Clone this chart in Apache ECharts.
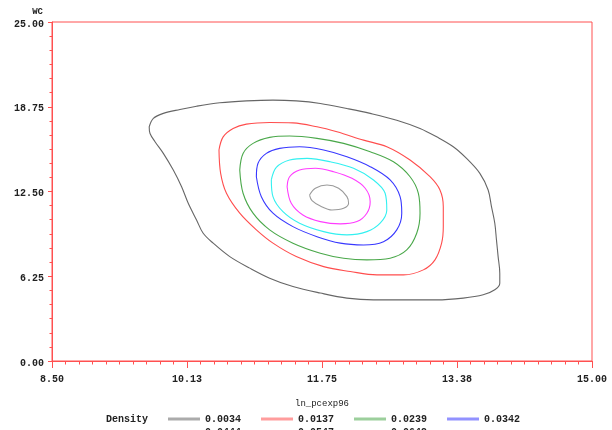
<!DOCTYPE html>
<html>
<head>
<meta charset="utf-8">
<script src="https://cdn.jsdelivr.net/npm/echarts@6/dist/echarts.min.js"></script>
<style>html,body{margin:0;padding:0;background:#fff;}#c{width:612px;height:430px;}</style>
</head>
<body>
<div id="c"></div>
<script>
// Density levels (legend) and contour colours
const levels = ['0.0034','0.0137','0.0239','0.0342','0.0444','0.0547','0.0649'];
const colors = ['#666666','#ff4d4d','#4aa84a','#3838ff','#33f0f0','#ff3cff','#9a9a9a'];
const xTickLabels = ['8.50','10.13','11.75','13.38','15.00'];
const yTickLabels = ['0.00','6.25','12.50','18.75','25.00'];

// Contour paths [ln_pcexp96, WC]
const c0034 = [[9.67,17.27],[9.72,17.89],[9.84,18.26],[10.04,18.55],[10.24,18.79],[10.52,19.04],[10.84,19.18],[11.16,19.24],[11.44,19.18],[11.73,18.99],[12.05,18.62],[12.33,18.26],[12.65,17.76],[12.93,17.15],[13.13,16.53],[13.33,15.80],[13.49,14.94],[13.65,13.84],[13.75,12.61],[13.79,11.38],[13.83,10.16],[13.85,8.93],[13.87,7.70],[13.89,6.48],[13.89,5.74],[13.83,5.25],[13.69,4.88],[13.45,4.64],[13.13,4.51],[12.73,4.51],[12.37,4.51],[12.05,4.64],[11.73,5.01],[11.40,5.49],[11.12,6.11],[10.88,6.85],[10.64,7.70],[10.44,8.69],[10.32,9.42],[10.24,10.40],[10.14,11.63],[10.06,12.85],[9.96,14.08],[9.84,15.31],[9.74,16.17],[9.68,16.78],[9.67,17.27]];
const c0137 = [[10.51,15.56],[10.56,16.53],[10.68,17.15],[10.84,17.47],[11.12,17.59],[11.40,17.56],[11.69,17.27],[11.93,16.90],[12.25,16.29],[12.53,15.80],[12.81,14.82],[13.05,13.59],[13.17,12.61],[13.21,11.38],[13.21,9.91],[13.19,8.69],[13.11,7.46],[12.97,6.72],[12.73,6.35],[12.41,6.35],[12.09,6.60],[11.77,6.96],[11.44,7.70],[11.16,8.69],[10.96,9.67],[10.76,10.90],[10.60,12.37],[10.53,13.84],[10.51,15.56]];
const c0239 = [[10.76,14.08],[10.80,15.31],[10.92,16.05],[11.12,16.49],[11.36,16.59],[11.69,16.42],[12.01,16.05],[12.33,15.43],[12.61,14.69],[12.81,13.59],[12.91,12.37],[12.93,10.90],[12.89,9.42],[12.77,8.19],[12.57,7.58],[12.29,7.46],[12.01,7.58],[11.73,7.95],[11.40,8.69],[11.12,9.67],[10.92,10.90],[10.80,12.37],[10.76,14.08]];
const c0342 = [[10.96,13.59],[10.98,14.58],[11.08,15.31],[11.24,15.68],[11.48,15.80],[11.77,15.56],[12.05,15.06],[12.33,14.33],[12.57,13.35],[12.69,12.12],[12.71,10.90],[12.65,9.67],[12.49,8.80],[12.25,8.56],[11.97,8.69],[11.69,9.17],[11.40,9.91],[11.16,10.90],[11.02,12.12],[10.96,13.59]];
const c0444 = [[11.14,13.35],[11.20,14.28],[11.36,14.82],[11.57,14.94],[11.85,14.69],[12.13,14.21],[12.37,13.35],[12.51,12.37],[12.53,11.14],[12.45,10.16],[12.29,9.54],[12.05,9.30],[11.77,9.54],[11.48,10.16],[11.28,11.01],[11.16,12.12],[11.14,13.35]];
const c0547 = [[11.33,12.85],[11.36,13.59],[11.48,14.08],[11.67,14.21],[11.89,13.96],[12.11,13.47],[12.27,12.74],[12.33,11.75],[12.29,10.90],[12.17,10.28],[11.97,10.11],[11.73,10.28],[11.52,10.77],[11.38,11.63],[11.33,12.85]];
const c0649 = [[11.60,12.24],[11.67,12.74],[11.81,12.98],[11.95,12.74],[12.05,12.12],[12.07,11.63],[12.01,11.26],[11.87,11.14],[11.73,11.43],[11.63,11.82],[11.60,12.24]];
const contours = [c0034,c0137,c0239,c0342,c0444,c0547,c0649];

const xMin = 8.5, xMax = 15, xStep = 1.625;
const yMin = 0, yMax = 25, yStep = 6.25;

const chart = echarts.init(document.getElementById('c'), null, {renderer:'canvas'});
const FONT = 'Liberation Mono';
const AX = '#ff5050';

const series = contours.map((d, i) => ({
  name: levels[i],
  type: 'line',
  xAxisIndex: 0,
  yAxisIndex: 0,
  data: d,
  smooth: 0.35,
  showSymbol: false,
  symbol: 'none',
  silent: true,
  lineStyle: {color: colors[i], width: 1.1},
  itemStyle: {color: colors[i]},
  animation: false
}));

chart.setOption({
  animation: false,
  backgroundColor: '#fff',
  grid: {left: 52, right: 20, top: 22, bottom: 69, show: true, borderColor: AX, borderWidth: 1, backgroundColor: 'transparent'},
  title: {text: 'Density', left: 106, top: 414, textStyle: {fontFamily: FONT, fontSize: 10, fontWeight: 'bold', color: '#222'}, padding: 0},
  legend: [
    {data: levels.slice(0,4), left: 168, top: 414, icon: 'rect', itemWidth: 32, itemHeight: 3, itemGap: 20, padding: 0,
     itemStyle: {opacity: 0.55}, textStyle: {fontFamily: FONT, fontSize: 10, fontWeight: 'bold', color: '#222'}, selectedMode: false},
    {data: levels.slice(4), left: 168, top: 427, icon: 'rect', itemWidth: 32, itemHeight: 3, itemGap: 20, padding: 0,
     itemStyle: {opacity: 0.55}, textStyle: {fontFamily: FONT, fontSize: 10, fontWeight: 'bold', color: '#222'}, selectedMode: false}
  ],
  xAxis: [
    {type: 'value', min: xMin, max: xMax, show: false},
    {type: 'value', min: 0, max: xMax - xMin, interval: xStep, position: 'bottom',
     name: 'ln_pcexp96', nameLocation: 'middle', nameGap: 38,
     nameTextStyle: {fontFamily: FONT, fontSize: 9, color: '#222'},
     axisLine: {show: true, lineStyle: {color: AX, width: 1}},
     axisTick: {show: true, length: 7, inside: false, lineStyle: {color: AX}},
     minorTick: {show: true, splitNumber: 10, length: 3.5, lineStyle: {color: AX}},
     splitLine: {show: false},
     axisLabel: {margin: 13, fontFamily: FONT, fontSize: 10, fontWeight: 'bold', color: '#222',
       formatter: (v) => xTickLabels[Math.round(v / xStep)]}}
  ],
  yAxis: [
    {type: 'value', min: yMin, max: yMax, interval: yStep,
     name: 'WC', nameLocation: 'end', nameGap: 6,
     nameTextStyle: {fontFamily: FONT, fontSize: 9, fontWeight: 'bold', color: '#222', align: 'right', padding: [0, 9, 0, 0]},
     axisLine: {show: true, lineStyle: {color: AX, width: 1}},
     axisTick: {show: true, length: 4, lineStyle: {color: AX}},
     minorTick: {show: true, splitNumber: 6, length: 2.5, lineStyle: {color: AX}},
     splitLine: {show: false},
     axisLabel: {margin: 8, fontFamily: FONT, fontSize: 10, fontWeight: 'bold', color: '#222', verticalAlign: 'top', lineHeight: 10, padding: [-3, 0, 0, 0],
       formatter: (v) => yTickLabels[Math.round(v / yStep)]}}
  ],
  series: series
});
</script>
</body>
</html>
